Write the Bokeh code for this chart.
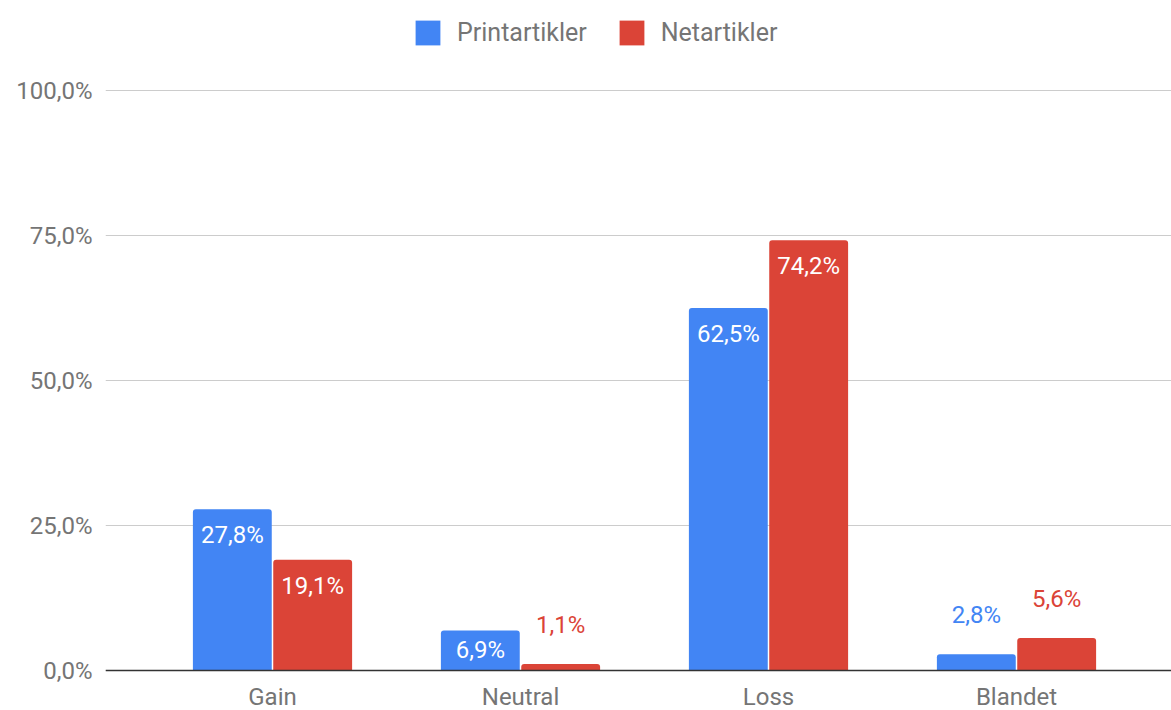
from bokeh.plotting import figure
from bokeh.models import Range1d, FixedTicker, Span, Legend, LegendItem, ColumnDataSource
from bokeh.core.properties import value
from bokeh.embed import file_html
from bokeh.resources import INLINE

categories = ["Gain", "Neutral", "Loss", "Blandet"]
series_names = ["Printartikler", "Netartikler"]
print_vals = [27.8, 6.9, 62.5, 2.8]
net_vals = [19.1, 1.1, 74.2, 5.6]
y_ticks = [0, 25, 50, 75, 100]
y_tick_labels = ["0,0%", "25,0%", "50,0%", "75,0%", "100,0%"]
colors = ["#4285F4", "#DB4437"]
FONT = "Roboto"
GREY = "#757575"

PX = 5.8      # pixels per percent
W, H = 1171, 710
BASE = 670    # canvas y of 0%
LEFT = 105    # frame left edge
CAT_PX = 248  # pixels per category

x_start = -(272 - LEFT) / CAT_PX
p = figure(width=W, height=H, output_backend="svg", toolbar_location=None,
           x_range=Range1d(x_start, x_start + (W - LEFT) / CAT_PX),
           y_range=Range1d(-(H - BASE) / PX, BASE / PX),
           x_axis_location=None,
           min_border_left=LEFT, min_border_right=0, min_border_top=0, min_border_bottom=0)
p.outline_line_color = None
p.background_fill_color = "white"
p.border_fill_color = "white"

yax = p.yaxis[0]
yax.ticker = FixedTicker(ticks=y_ticks)
yax.major_label_overrides = {t: l for t, l in zip(y_ticks, y_tick_labels)}
yax.axis_line_color = None
yax.major_tick_line_color = None
yax.minor_tick_line_color = None
yax.major_tick_out = 0
yax.major_tick_in = 0
yax.major_label_standoff = 13
yax.major_label_text_font = FONT
yax.major_label_text_font_size = "24px"
yax.major_label_text_color = GREY
p.xgrid.visible = False
p.ygrid.grid_line_color = "#cccccc"
p.ygrid.grid_line_width = 1

off = 0.162
bw = 0.318
idx = list(range(len(categories)))
renderers = []
for s, (vals, col) in enumerate(zip([print_vals, net_vals], colors)):
    xs = [i + (-off if s == 0 else off) for i in idx]
    src = ColumnDataSource(dict(x=xs, top=vals))
    r = p.vbar(x="x", top="top", bottom=0, width=bw, source=src,
               fill_color=col, line_color=None, border_radius=(3, 3, 0, 0))
    renderers.append(r)
    ly, lc, lt = [], [], []
    for v in vals:
        txt = ("%.1f" % v).replace(".", ",") + "%"
        lt.append(txt)
        if v > 6:
            ly.append(max(v - 26 / PX, v / 2))
            lc.append("white")
        else:
            ly.append(v + 39 / PX)
            lc.append(col)
    lsrc = ColumnDataSource(dict(x=xs, y=ly, t=lt, c=lc))
    p.text(x="x", y="y", text="t", text_color="c", source=lsrc,
           text_align="center", text_baseline="middle",
           text_font=value(FONT), text_font_size="24px")

base = Span(location=0, dimension="width", line_color="#333333", line_width=1.5)
p.add_layout(base)

csrc = ColumnDataSource(dict(x=idx, y=[-(696 - BASE) / PX] * len(idx), t=categories))
p.text(x="x", y="y", text="t", source=csrc, text_align="center",
       text_baseline="middle", text_color=GREY,
       text_font=value(FONT), text_font_size="24px")

legend = Legend(items=[LegendItem(label=n, renderers=[r]) for n, r in zip(series_names, renderers)],
                orientation="horizontal", location=(307, H - 48),
                glyph_width=31, glyph_height=31, label_standoff=14, spacing=29,
                padding=0, margin=0, border_line_color=None, background_fill_alpha=0,
                label_text_font=FONT, label_text_font_size="25px", label_text_color=GREY)
p.add_layout(legend)

open("out.html", "w").write(file_html(p, INLINE))
